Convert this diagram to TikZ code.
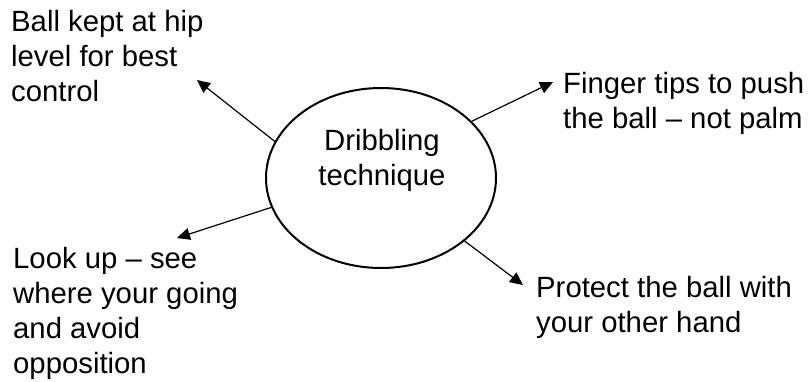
\documentclass[tikz,border=0pt]{standalone}
\usepackage{fontspec}
\setmainfont{Liberation Sans}
\usetikzlibrary{shapes.geometric,arrows.meta}
\begin{document}
\begin{tikzpicture}[x=1pt,y=-1pt,
  every node/.style={font=\fontsize{29.3}{35}\selectfont},
  hub/.style={ellipse,draw,line width=2pt,minimum width=230pt,minimum height=180pt,inner sep=0pt},
  note/.style={align=left,anchor=base west,inner sep=0pt},
  title/.style={align=center,anchor=base,inner sep=0pt},
  link/.style={line width=1.2pt,-{Triangle[length=13pt,width=12pt]}}]
  \useasboundingbox (0,0) rectangle (809,381);
  % central topic (node base = baseline of the last line)
  \node[hub] (hub) at (381,178) {};
  \node[title] (topic) at (382,185) {Dribbling\\technique};
  % surrounding notes, placed by the baseline of their last line
  \node[note] (hip) at (11,101) {Ball kept at hip\\level for best\\control};
  \node[note] (tips) at (563,128) {Finger tips to push\\the ball -- not palm};
  \node[note] (look) at (13,373.5) {Look up -- see\\where your going\\and avoid\\opposition};
  \node[note] (protect) at (536,332) {Protect the ball with\\your other hand};
  % arrow heads
  \coordinate (hipTip) at (197,80);
  \coordinate (tipsTip) at (553,82);
  \coordinate (lookTip) at (177,238);
  \coordinate (protectTip) at (523,285);
  \draw[link] (hub.161.7) -- (hipTip);
  \draw[link] (hub.32.6) -- (tipsTip);
  \draw[link] (hub.195.5) -- (lookTip);
  \draw[link] (hub.323.2) -- (protectTip);
\end{tikzpicture}
\end{document}
